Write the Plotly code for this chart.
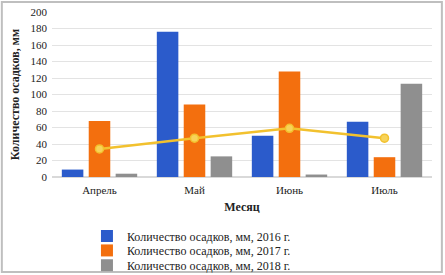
import plotly.graph_objects as go

months = ["Апрель", "Май", "Июнь", "Июль"]
s2016 = [9, 176, 50, 67]
s2017 = [68, 88, 128, 24]
s2018 = [4, 25, 3, 113]
line_vals = [34, 47, 59, 47]
names = ["Количество осадков, мм, 2016 г.",
         "Количество осадков, мм, 2017 г.",
         "Количество осадков, мм, 2018 г."]
colors = ["#2B5BCB", "#F36F0E", "#8F8F8F"]
yticks = list(range(0, 201, 20))

font_serif = "Liberation Serif, serif"
legend_ids = ["legend", "legend2", "legend3"]
legend_y = [-0.358, -0.445, -0.535]

fig = go.Figure()
for vals, nm, c, lg in zip([s2016, s2017, s2018], names, colors, legend_ids):
    fig.add_trace(go.Bar(x=months, y=vals, name=nm, legend=lg,
                         marker=dict(color=c, line=dict(width=0))))
fig.add_trace(go.Scatter(x=months, y=line_vals, mode="lines+markers", showlegend=False,
                         line=dict(color="#F2C12E", width=2.5),
                         marker=dict(size=8, color="#F7D35A", line=dict(color="#F2C12E", width=1.5))))

fig.update_layout(
    width=445, height=275,
    margin=dict(l=52, r=13, t=12, b=98, autoexpand=False),
    paper_bgcolor="white", plot_bgcolor="white",
    barmode="group", bargap=0.15, bargroupgap=0.2,
    font=dict(family=font_serif, size=11, color="#222"),
    xaxis=dict(title=dict(text="<b>Месяц</b>", font=dict(size=12, family=font_serif), standoff=7),
               showgrid=False, showline=False, ticks="", ticklabelstandoff=5,
               tickfont=dict(family=font_serif, size=11)),
    yaxis=dict(title=dict(text="<b>Количество осадков, мм</b>", font=dict(size=12, family=font_serif), standoff=8),
               range=[0, 200], tickvals=yticks, showgrid=True, gridcolor="#E3E3E3",
               zeroline=True, zerolinecolor="#D9D9D9", ticks="", ticklabelstandoff=4,
               tickfont=dict(family=font_serif, size=11)),
    shapes=[dict(type="rect", xref="paper", yref="paper", x0=-0.132, x1=1.026, y0=-0.576, y1=1.061,
                 line=dict(color="#BFBFBF", width=2), fillcolor="rgba(0,0,0,0)", layer="below")],
)
for lg, ly in zip(legend_ids, legend_y):
    fig.update_layout({lg: dict(orientation="v", x=0.092, xanchor="left", yanchor="middle", y=ly,
                                font=dict(size=12, family=font_serif, color="#222"),
                                itemwidth=30, bgcolor="rgba(0,0,0,0)", borderwidth=0)})

fig.write_html("out.html", config={"displayModeBar": False},
               post_script="document.body.style.margin='0';document.body.style.overflow='hidden';")
